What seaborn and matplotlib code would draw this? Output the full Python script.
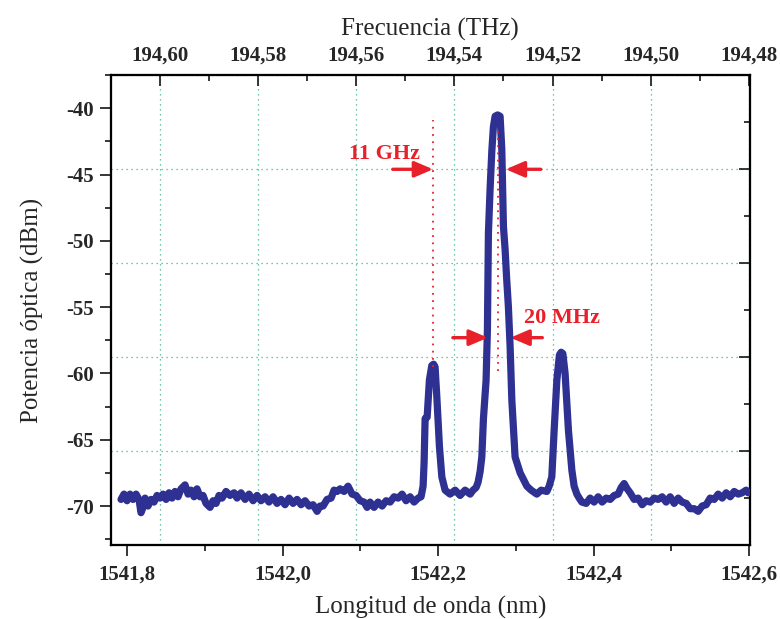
import numpy as np
import pandas as pd
import matplotlib
matplotlib.use("Agg")
import matplotlib.pyplot as plt
from matplotlib.ticker import MultipleLocator, FixedLocator, FuncFormatter
import seaborn as sns

# ---------------- data ----------------
# pixel-column readings converted to wavelength: lambda = 1541.8 + (x-127)/777.5
px_x = [121, 124, 127, 130, 133, 136, 139, 141, 143, 145, 148, 151, 154, 157, 160, 163,
        166, 169, 172, 175, 178, 181, 185, 188, 191, 194, 197, 200, 203, 206, 210, 213,
        216, 219, 222, 226, 230, 234, 237, 241, 245, 249, 253, 257, 261, 265, 269, 273,
        277, 281, 285, 289, 293, 297, 301, 305, 309, 313, 317, 320, 323, 327, 331, 334,
        337, 340, 344, 348, 352, 356, 360, 364, 367, 370, 374, 378, 382, 386, 390, 394,
        398, 402, 406, 410, 414, 418, 421,
        423, 424, 425, 427, 429.3, 431.7, 433.5, 435, 436.7, 438, 439.3, 441.7, 445, 450,
        455, 460, 465, 470, 473, 476, 478, 480, 481.7, 483.3, 486, 487.3, 488.3, 490,
        491.7, 493.3, 495, 497.5, 500, 501.7, 503.3, 505, 506.5, 508.3, 510, 511.7, 515,
        520, 526.7, 531, 536.7, 541, 546.7, 549, 551.7, 554, 556.7, 559.3, 561, 562.7,
        565, 568.3, 571.7, 574, 576.7, 579, 581.7,
        586, 590, 594, 598, 602, 606, 610, 614, 618, 621, 624, 627, 630, 634, 638, 642,
        646, 650, 654, 658, 662, 666, 670, 674, 678, 682, 686, 690, 694, 698, 702, 706,
        710, 714, 718, 722, 726, 730, 734, 738, 742, 746, 748]
wavelength_nm = [round(1541.8 + (x - 127) / 777.5, 4) for x in px_x]
power_dbm = [-69.5, -69.1, -69.6, -69.1, -69.5, -69.1, -69.5, -70.5, -70.1, -69.4, -70.0,
             -69.5, -69.7, -69.2, -69.4, -69.1, -69.5, -69.0, -69.4, -68.9, -69.3, -68.7,
             -68.4, -69.1, -68.8, -69.3, -68.7, -69.3, -69.2, -69.8, -70.1, -69.6, -69.8,
             -69.2, -69.4, -68.9, -69.2, -69.0, -69.4, -69.0, -69.5, -69.1, -69.6, -69.2,
             -69.6, -69.3, -69.7, -69.3, -69.8, -69.5, -69.9, -69.4, -69.8, -69.5, -69.9,
             -69.6, -70.0, -69.9, -70.4, -70.0, -70.0, -69.5, -69.4, -68.8, -68.9, -68.7,
             -68.9, -68.5, -69.1, -69.2, -69.6, -69.7, -70.1, -69.7, -70.1, -69.7, -70.0,
             -69.6, -69.7, -69.3, -69.4, -69.1, -69.6, -69.3, -69.7, -69.4, -69.3,
             -68.5, -66.7, -63.4, -63.3, -60.5, -59.4, -59.3, -59.5, -61.7, -63.6, -65.5,
             -67.8, -68.8, -69.1, -68.8, -69.2, -68.8, -69.1, -68.8, -68.6, -68.2, -67.4,
             -66.3, -63.4, -60.5, -56.7, -49.4, -46.0, -43.2, -41.4, -40.6, -40.5, -40.6,
             -43.1, -48.9, -50.7, -52.8, -55.0, -58.0, -62.0, -66.3, -67.5, -68.5, -68.8,
             -69.1, -68.8, -68.9, -68.5, -67.8, -64.3, -60.5, -58.6, -58.4, -58.5, -60.0,
             -64.3, -67.3, -68.5, -69.1, -69.4, -69.7,
             -69.8, -69.4, -69.7, -69.3, -69.7, -69.4, -69.5, -69.2, -69.1, -68.6, -68.3,
             -68.7, -69.0, -69.5, -69.4, -69.9, -69.6, -69.7, -69.4, -69.5, -69.3, -69.7,
             -69.3, -69.8, -69.4, -69.7, -69.8, -70.2, -70.2, -70.4, -70.0, -69.9, -69.4,
             -69.5, -69.1, -69.4, -69.0, -69.3, -68.9, -69.1, -69.0, -68.8, -69.0]

bottom_ticks = [1541.8, 1542.0, 1542.2, 1542.4, 1542.6]
left_ticks = [-40, -45, -50, -55, -60, -65, -70]
top_ticks = [194.60, 194.58, 194.56, 194.54, 194.52, 194.50, 194.48]

x_limits = (1541.779, 1542.601)
y_limits = (-72.94, -37.49)
freq_limits = (194.6100, 194.4798)

# annotations
lambda_side = 1542.193
lambda_main = 1542.277
side_line_span = (-59.5, -40.9)
main_line_span = (-59.8, -41.4)
ghz_y = -44.6
ghz_arrows = [(1542.1417, 1542.1936), (1542.332, 1542.287)]
mhz_y = -57.3
mhz_arrows = [(1542.219, 1542.264), (1542.334, 1542.293)]
ghz_label = ("11 GHz", 1542.1305, -43.45)
mhz_label = ("20 MHz", 1542.359, -55.8)

df = pd.DataFrame({"wl": wavelength_nm, "p": power_dbm})

# ---------------- style ----------------
sns.set_style("ticks")
plt.rcParams['font.family'] = ['Liberation Serif', 'DejaVu Serif']

LINE = "#2e3192"
RED = "#e8202a"
GRID = "#3fb58e"

fig = plt.figure(figsize=(7.8, 6.19), dpi=100)
ax = fig.add_axes([0.1419, 0.1195, 0.9615 - 0.1419, 0.8788 - 0.1195])
ax_top = ax.twiny()
ax_right = ax.twinx()

sns.lineplot(data=df, x="wl", y="p", ax=ax, color=LINE, lw=5.2, sort=False,
             estimator=None, zorder=5, solid_joinstyle='round')

ax.set_xlim(*x_limits)
ax.set_ylim(*y_limits)
ax_top.set_xlim(*freq_limits)
ax_right.set_ylim(0, 5)

comma = FuncFormatter(lambda v, pos: (f"{v:.1f}").replace(".", ","))
comma2 = FuncFormatter(lambda v, pos: (f"{v:.2f}").replace(".", ","))

ax.xaxis.set_major_locator(FixedLocator(bottom_ticks))
ax.xaxis.set_minor_locator(MultipleLocator(0.1))
ax.xaxis.set_major_formatter(comma)
ax.yaxis.set_major_locator(FixedLocator(left_ticks))
ax.yaxis.set_minor_locator(MultipleLocator(2.5))
ax.yaxis.set_major_formatter(FuncFormatter(lambda v, pos: f"{int(round(v))}"))

ax_top.xaxis.set_major_locator(FixedLocator(top_ticks))
ax_top.xaxis.set_minor_locator(MultipleLocator(0.01))
ax_top.xaxis.set_major_formatter(comma2)

ax_right.yaxis.set_major_locator(MultipleLocator(1))
ax_right.yaxis.set_minor_locator(MultipleLocator(0.5))
ax_right.set_yticklabels([])

# ticks
ax.tick_params(axis='x', which='major', direction='out', length=8, width=1.3, pad=6,
               labelsize=15, top=False)
ax.tick_params(axis='x', which='minor', direction='out', length=4.5, width=1.3, top=False)
ax.tick_params(axis='y', which='major', direction='out', length=8, width=1.3, pad=4,
               labelsize=15, right=False)
ax.tick_params(axis='y', which='minor', direction='out', length=4.5, width=1.3, right=False)
ax_top.tick_params(axis='x', which='major', direction='in', length=8, width=1.3, pad=7,
                   labelsize=15)
ax_top.tick_params(axis='x', which='minor', direction='in', length=4.5, width=1.3)
ax_right.tick_params(axis='y', which='major', direction='in', length=8, width=1.3)
ax_right.tick_params(axis='y', which='minor', direction='in', length=4.5, width=1.3)

for a in (ax, ax_top, ax_right):
    for s in a.spines.values():
        s.set_linewidth(1.5)
        s.set_color("black")
        s.set_visible(True)
for lab in ax.get_xticklabels() + ax.get_yticklabels() + ax_top.get_xticklabels():
    lab.set_fontweight('bold')

# grids from the top and right axes, drawn behind the trace
ax_top.grid(axis='x', which='major', color=GRID, lw=0.9, linestyle=(0, (1, 3)))
ax_right.grid(axis='y', which='major', color=GRID, lw=0.9, linestyle=(0, (1, 3)))
ax.set_zorder(ax_top.zorder + 2)
ax.patch.set_visible(False)
ax_top.patch.set_facecolor("white")

# labels
ax.set_xlabel("Longitud de onda (nm)", fontsize=18, labelpad=8)
ax.set_ylabel("Potencia óptica (dBm)", fontsize=18, labelpad=16)
ax_top.set_xlabel("Frecuencia (THz)", fontsize=18, labelpad=7)

# annotations
ax.vlines([lambda_side], *side_line_span, colors=RED, lw=1.3, linestyles=[(0, (1, 3))], zorder=6)
ax.vlines([lambda_main], *main_line_span, colors=RED, lw=1.3, linestyles=[(0, (1, 3))], zorder=6)
arrow_kw = dict(arrowstyle='-|>,head_length=0.7,head_width=0.3', color=RED, lw=2.4,
                shrinkA=0, shrinkB=0, mutation_scale=16)
for (x0, x1) in ghz_arrows:
    ax.annotate("", xy=(x1, ghz_y), xytext=(x0, ghz_y), arrowprops=arrow_kw, zorder=7)
for (x0, x1) in mhz_arrows:
    ax.annotate("", xy=(x1, mhz_y), xytext=(x0, mhz_y), arrowprops=arrow_kw, zorder=7)
for t, xx, yy in (ghz_label, mhz_label):
    ax.text(xx, yy, t, color=RED, fontsize=16, fontweight='bold', ha='center', va='center',
            zorder=8)

fig.savefig("out.png", dpi=100)
